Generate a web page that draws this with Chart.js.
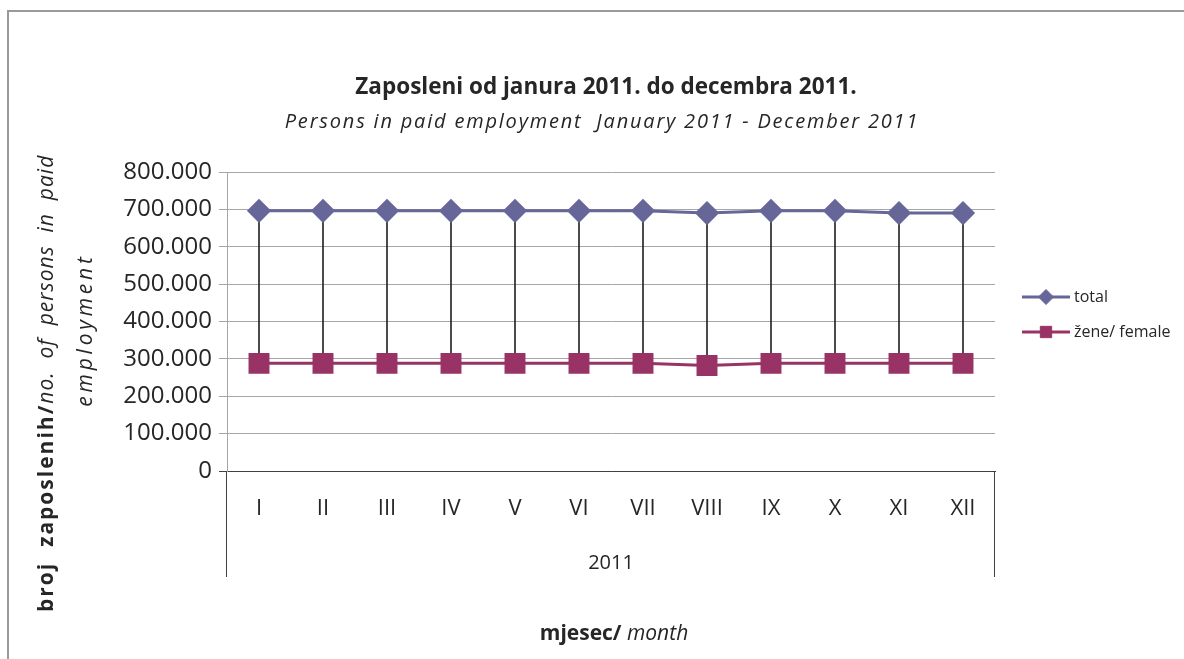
<!DOCTYPE html>
<html>
<head>
<meta charset="utf-8">
<script src="https://cdn.jsdelivr.net/npm/chart.js@4.4.1/dist/chart.umd.min.js"></script>
<style>
  html, body { margin: 0; padding: 0; background: #fff; }
  canvas { display: block; }
</style>
</head>
<body>
<canvas id="chart" width="1184" height="659"></canvas>
<script>
// data
const months = ['I', 'II', 'III', 'IV', 'V', 'VI', 'VII', 'VIII', 'IX', 'X', 'XI', 'XII'];
const totalEmployed = [696000, 696000, 696000, 696000, 696000, 696000, 696000, 690000, 696000, 696000, 690000, 690000];
const femaleEmployed = [288000, 288000, 288000, 288000, 288000, 288000, 288000, 282000, 288000, 288000, 288000, 288000];
const yTickLabels = ['0', '100.000', '200.000', '300.000', '400.000', '500.000', '600.000', '700.000', '800.000'];
const yearLabel = '2011';
const legendLabels = ['total', 'žene/ female'];
const chartTitle = 'Zaposleni od janura 2011. do decembra 2011.';
const chartSubtitle = 'Persons in paid employment  January 2011 - December 2011';

const FONT = '"Open Sans", sans-serif';
const TEXT = '#262626';
const TOTAL_COLOR = '#666699';
const FEMALE_COLOR = '#993366';

// vertical drop lines between the two series
const dropLines = months.map((m, i) => [femaleEmployed[i], totalEmployed[i]]);

// draws frame, titles, axis titles, year group and legend
const decorPlugin = {
  id: 'decor',
  afterDraw(chart) {
    const c = chart.ctx;
    const a = chart.chartArea;
    c.save();

    // outer frame
    c.strokeStyle = '#9a9a9a';
    c.lineWidth = 2;
    c.beginPath();
    c.moveTo(8, 700);
    c.lineTo(8, 11);
    c.lineTo(1200, 11);
    c.stroke();

    c.fillStyle = TEXT;
    c.textBaseline = 'middle';
    c.textAlign = 'center';

    // titles
    c.font = 'bold 22.5px ' + FONT;
    c.fillText(chartTitle, 606, 88);
    c.font = 'italic 20px ' + FONT;
    c.letterSpacing = '1.8px';
    c.fillText(chartSubtitle, 602, 122);
    c.letterSpacing = '0px';

    // year group under the month labels
    c.strokeStyle = '#404040';
    c.lineWidth = 1;
    c.beginPath();
    c.moveTo(Math.round(a.left) - 0.5, a.bottom);
    c.lineTo(Math.round(a.left) - 0.5, 577);
    c.moveTo(Math.round(a.right) - 0.5, a.bottom);
    c.lineTo(Math.round(a.right) - 0.5, 577);
    c.stroke();
    c.font = '20px ' + FONT;
    c.fillText(yearLabel, (a.left + a.right) / 2, 563);

    // x axis title, bold + italic
    c.textAlign = 'left';
    const xb = 'mjesec/ ', xi = 'month';
    c.font = 'bold 21px ' + FONT;
    const wb = c.measureText(xb).width;
    c.font = 'italic 21px ' + FONT;
    const wi = c.measureText(xi).width;
    const x0 = 614 - (wb + wi) / 2;
    c.font = 'bold 21px ' + FONT;
    c.fillText(xb, x0, 634);
    c.font = 'italic 21px ' + FONT;
    c.fillText(xi, x0 + wb, 634);

    // y axis title, rotated, clipped at the top like the original
    c.save();
    c.beginPath();
    c.rect(0, 153, 120, 500);
    c.clip();
    c.translate(47, 612);
    c.rotate(-Math.PI / 2);
    const yb = 'broj  zaposlenih/', yi = 'no.  of  persons  in  paid';
    c.font = 'bold 21px ' + FONT;
    c.letterSpacing = '2px';
    c.fillText(yb, 0, 0);
    const wyb = c.measureText(yb).width;
    c.font = 'italic 21px ' + FONT;
    c.letterSpacing = '1px';
    c.fillText(yi, wyb, 0);
    c.restore();
    c.save();
    c.translate(86, 330);
    c.rotate(-Math.PI / 2);
    c.textAlign = 'center';
    c.font = 'italic 21px ' + FONT;
    c.letterSpacing = '3.8px';
    c.fillText('employment', 0, 0);
    c.restore();

    // legend
    const rows = [
      { label: legendLabels[0], color: TOTAL_COLOR, style: 'rectRot', r: 7.5, y: 297 },
      { label: legendLabels[1], color: FEMALE_COLOR, style: 'rect', r: 8, y: 332 }
    ];
    rows.forEach(row => {
      c.strokeStyle = row.color;
      c.lineWidth = 3;
      c.beginPath();
      c.moveTo(1022, row.y);
      c.lineTo(1070, row.y);
      c.stroke();
      c.fillStyle = row.color;
      c.lineWidth = 1;
      Chart.helpers.drawPoint(c, { pointStyle: row.style, radius: row.r, borderWidth: 1 }, 1046, row.y);
      c.fillStyle = TEXT;
      c.font = '16px ' + FONT;
      c.textAlign = 'left';
      c.fillText(row.label, 1074, row.y);
    });

    c.restore();
  }
};

const ctx = document.getElementById('chart').getContext('2d');

new Chart(ctx, {
  type: 'line',
  data: {
    labels: months,
    datasets: [
      {
        type: 'bar',
        data: dropLines,
        backgroundColor: '#262626',
        barThickness: 1,
        order: 3
      },
      {
        label: legendLabels[0],
        data: totalEmployed,
        borderColor: TOTAL_COLOR,
        backgroundColor: TOTAL_COLOR,
        borderWidth: 3,
        pointStyle: 'rectRot',
        pointRadius: 10,
        pointHoverRadius: 10,
        order: 1
      },
      {
        label: legendLabels[1],
        data: femaleEmployed,
        borderColor: FEMALE_COLOR,
        backgroundColor: FEMALE_COLOR,
        borderWidth: 3,
        pointStyle: 'rect',
        pointRadius: 12.7,
        pointHoverRadius: 12.7,
        order: 2
      }
    ]
  },
  options: {
    responsive: false,
    animation: false,
    layout: {
      padding: { left: 0, top: 172, right: 189, bottom: 138 }
    },
    plugins: {
      legend: { display: false },
      title: { display: false },
      tooltip: { enabled: false }
    },
    scales: {
      x: {
        offset: true,
        grid: { display: false, drawTicks: false },
        border: { color: '#404040' },
        ticks: {
          font: { family: FONT, size: 22 },
          color: TEXT,
          padding: 25,
          maxRotation: 0,
          autoSkip: false
        },
        afterFit(scale) { scale.height = 50; }
      },
      y: {
        min: 0,
        max: 800000,
        ticks: {
          stepSize: 100000,
          font: { family: FONT, size: 24 },
          color: TEXT,
          padding: 7,
          callback: (v, i) => yTickLabels[i]
        },
        grid: {
          color: ctx => ctx.index === 0 ? '#404040' : '#a6a6a6',
          tickLength: 8
        },
        border: { color: '#a6a6a6' },
        afterFit(scale) { scale.width = 227; }
      }
    }
  },
  plugins: [decorPlugin]
});
</script>
</body>
</html>
